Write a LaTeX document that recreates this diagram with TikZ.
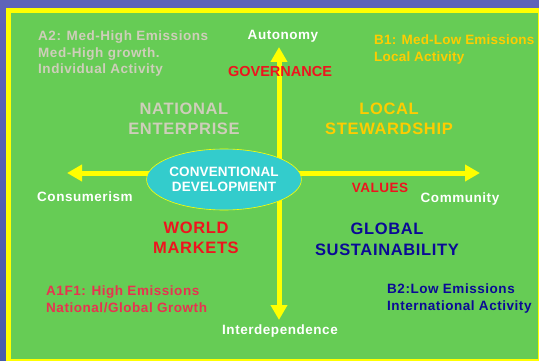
\documentclass[tikz,border=0pt]{standalone}
\usepackage{fontspec}
\setmainfont{Liberation Sans}
\usetikzlibrary{arrows.meta,shapes.geometric}
\definecolor{bgblue}{RGB}{72,92,170}
\definecolor{bgtop}{RGB}{95,100,185}
\definecolor{panel}{RGB}{102,204,85}
\definecolor{ylw}{RGB}{255,255,0}
\definecolor{greytxt}{RGB}{206,206,186}
\definecolor{gold}{RGB}{255,204,0}
\definecolor{redtxt}{RGB}{238,20,30}
\definecolor{pinkred}{RGB}{232,50,80}
\definecolor{navy}{RGB}{10,10,150}
\definecolor{cyanfill}{RGB}{51,204,204}
\tikzset{
  small/.style={font=\fontsize{13.5}{16.5}\selectfont\bfseries\addfontfeature{LetterSpace=4}, inner sep=0pt},
  big/.style={font=\fontsize{16.5}{20.5}\selectfont\bfseries\addfontfeature{LetterSpace=4}, inner sep=0pt, align=center},
  axis/.style={draw=ylw, line width=5pt, {Triangle[length=15pt,width=16pt]}-{Triangle[length=15pt,width=16pt]}},
  centre/.style={ellipse, fill=cyanfill, draw=ylw, line width=0.6pt, minimum width=154pt, minimum height=61pt, inner sep=0pt, align=center, text=white, font=\fontsize{13.5}{15.5}\selectfont\bfseries\addfontfeature{LetterSpace=1}}
}
\begin{document}
\begin{tikzpicture}[x=1pt,y=-1pt]
\clip (0,0) rectangle (539,361);
\useasboundingbox (0,0) rectangle (539,361);
\shade[top color=bgtop, bottom color=bgblue] (0,0) rectangle (539,361);
\draw[ylw, line width=5pt, fill=panel] (8.5,10.5) rectangle (540,361);
% axes
\coordinate (top) at (279,47);
\coordinate (bottom) at (279,320);
\coordinate (left) at (67,173);
\coordinate (right) at (480,173);
\draw[axis] (bottom) -- (top);
\draw[axis] (left) -- (right);
\node[centre] (conv) at (224,179.5) {CONVENTIONAL\\DEVELOPMENT};
% axis labels
\node[small, text=white] (auto) at (283,36) {Autonomy};
\node[small, text=redtxt, font=\fontsize{14.5}{16}\selectfont\bfseries] (gov) at (280,72) {GOVERNANCE};
\node[small, text=white, anchor=west] (cons) at (37,197) {Consumerism};
\node[small, text=redtxt] (val) at (380,188) {VALUES};
\node[small, text=white] (comm) at (460,199) {Community};
\node[small, text=white] (inter) at (280,331) {Interdependence};
% quadrant labels
\node[big, text=greytxt] (nat) at (184,119) {NATIONAL\\ENTERPRISE};
\node[big, text=gold] (loc) at (389,119) {LOCAL\\STEWARDSHIP};
\node[big, text=redtxt] (world) at (196,238) {WORLD\\MARKETS};
\node[big, text=navy] (glob) at (387,239.5) {GLOBAL\\SUSTAINABILITY};
% scenarios
\node[small, text=greytxt, anchor=north west, align=left] (a2) at (38,31) {A2: Med-High Emissions\\Med-High growth.\\Individual Activity};
\node[small, text=gold, anchor=north west, align=left, font=\fontsize{13.5}{16.5}\selectfont\bfseries\addfontfeature{LetterSpace=1.5}] (b1) at (374,35) {B1: Med-Low Emissions\\Local Activity};
\node[small, text=pinkred, anchor=north west, align=left] (a1) at (46,286) {A1F1: High Emissions\\National/Global Growth};
\node[small, text=navy, anchor=north west, align=left] (b2) at (387,284) {B2:Low Emissions\\International Activity};
\end{tikzpicture}
\end{document}
